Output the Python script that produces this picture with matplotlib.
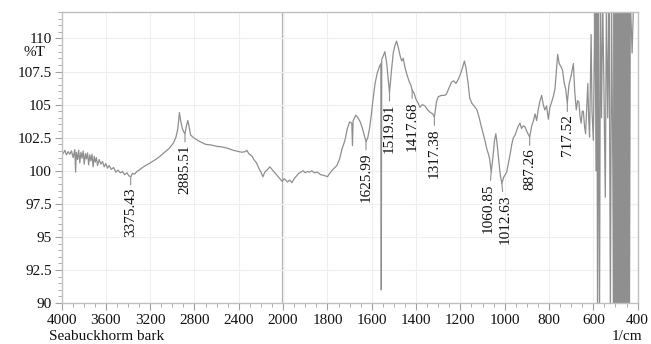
import numpy as np
import matplotlib
matplotlib.use("Agg")
import matplotlib.pyplot as plt
from matplotlib.ticker import FixedLocator, FixedFormatter

# ---------------- data ----------------
wavenumber = [
    4000, 3985, 3970, 3955, 3940, 3925, 3910, 3895, 3880, 3873, 3866, 3855, 3845, 3835,
    3825, 3815, 3805, 3795, 3785, 3775, 3765, 3755, 3745, 3735, 3725, 3715, 3705, 3695,
    3685, 3675, 3660, 3645, 3630, 3615, 3600, 3585, 3570, 3550, 3530, 3510, 3490, 3470,
    3450, 3430, 3410, 3390, 3375.43, 3360, 3340, 3320, 3300, 3260, 3209, 3160, 3118, 3070,
    3027, 2990, 2967, 2950, 2936, 2925, 2910, 2895, 2885.51, 2875, 2860, 2850, 2835, 2800,
    2750, 2700, 2650, 2600, 2550, 2500, 2450, 2400, 2370, 2340, 2327, 2310, 2280, 2260,
    2240, 2220, 2200, 2182, 2165, 2140, 2120, 2100, 2080, 2060, 2040, 2020, 2009, 1995,
    1980, 1970, 1960, 1950, 1940, 1930, 1920, 1910, 1900, 1890, 1880, 1870, 1860, 1845,
    1830, 1815, 1800, 1790, 1775, 1757, 1745, 1735, 1721, 1710, 1700, 1690, 1687, 1684,
    1672, 1662, 1652, 1642, 1634, 1625.99, 1618, 1610, 1602, 1595, 1585, 1575, 1565, 1559,
    1557, 1555, 1548, 1541, 1533, 1526, 1519.91, 1512, 1503, 1495, 1488, 1480, 1472, 1465,
    1458, 1450, 1440, 1430, 1424, 1417.68, 1410, 1400, 1390, 1383, 1372, 1360, 1348, 1335,
    1325, 1317.38, 1308, 1300, 1285, 1270, 1263, 1250, 1240, 1230, 1220, 1210, 1200, 1190,
    1182, 1175, 1165, 1158, 1148, 1138, 1125, 1115, 1105, 1097, 1088, 1080, 1074, 1068,
    1060.85, 1052, 1046, 1040, 1034, 1027, 1020, 1012.63, 1005, 998, 991, 983, 975, 968,
    961, 953, 945, 938, 931, 924, 916, 908, 898, 887.26, 878, 870, 863, 856,
    849, 842, 833, 826, 819, 811, 803, 796, 788, 781, 773, 767, 761, 754,
    747, 739, 732, 725, 717.52, 710, 700, 690, 684, 677, 671, 665, 660, 655,
    650, 645, 640, 635, 630, 625, 621, 617, 613, 610, 606, 600, 596, 592,
    588, 584, 581, 577, 572, 568, 563, 558, 552, 546, 541, 535, 529, 523,
    518, 512, 509, 506, 503, 500, 497, 494, 491, 488, 485, 482, 479, 476,
    473, 470, 467, 464, 461, 458, 455, 452, 449, 446, 443, 440, 437, 433,
    425, 418, 410, 400,
]
transmittance = [
    101.5, 101.3, 101.55, 101.2, 101.45, 101.25, 101.5, 101.0, 101.6, 99.9, 101.4, 100.85, 101.55, 100.6,
    101.4, 100.95, 101.5, 100.5, 101.3, 100.9, 101.35, 100.45, 101.2, 100.75, 101.25, 100.3, 101.1, 100.65,
    101.0, 100.4, 100.85, 100.5, 100.7, 100.3, 100.55, 100.2, 100.4, 100.1, 100.25, 99.9, 100.05, 99.85,
    99.95, 99.7, 99.85, 99.6, 99.55, 99.8, 99.75, 99.95, 100.05, 100.3, 100.55, 100.8, 101.05, 101.4,
    101.7, 102.1, 102.55, 103.2, 104.4, 103.8, 103.2, 102.9, 102.8, 103.3, 103.8, 103.4, 102.7, 102.45,
    102.2, 102.0, 101.95, 101.85, 101.8, 101.7, 101.55, 101.45, 101.4, 101.45, 101.55, 101.3, 101.1, 100.8,
    100.6, 100.2, 99.9, 99.55, 99.9, 100.1, 100.3, 100.1, 99.9, 99.7, 99.5, 99.3, 99.2, 99.4,
    99.15, 99.3, 99.1, 99.4, 99.6, 99.8, 99.9, 100.0, 99.85, 99.95, 99.9, 100.0, 99.85, 99.9,
    99.7, 99.65, 99.55, 99.8, 100.1, 100.4, 100.9, 101.6, 102.3, 103.2, 103.7, 103.6, 101.9, 103.8,
    104.2, 104.0, 103.7, 103.2, 102.7, 102.2, 102.5, 103.2, 104.2, 105.3, 106.6, 107.4, 107.9, 108.1,
    91.0, 108.4, 108.7, 109.0, 108.2, 107.0, 105.9, 107.4, 108.9, 109.5, 109.8, 109.3, 108.7, 108.3,
    108.5, 107.8, 107.2, 106.7, 106.5, 106.1, 105.9, 105.4, 105.1, 104.8, 105.0, 104.9, 104.6, 104.4,
    104.3, 104.05, 105.2, 105.6, 105.7, 105.7, 105.8, 106.3, 106.7, 106.8, 106.6, 106.9, 107.3, 107.8,
    108.3, 107.8, 106.6, 105.5, 105.1, 104.9, 104.6, 104.0, 103.3, 102.8, 102.2, 101.6, 101.3, 100.9,
    99.9, 101.2, 102.3, 102.8, 102.0, 100.8, 99.7, 99.05, 99.5, 99.7, 99.9, 100.6, 101.3, 102.0,
    102.5, 102.7, 103.1, 103.4, 103.6, 103.2, 103.4, 103.3, 102.9, 102.55, 103.4, 103.8, 104.3, 103.8,
    104.6, 105.2, 105.7, 105.0, 104.6, 104.9, 103.9, 104.8, 105.2, 105.6, 106.2, 107.5, 108.8, 108.1,
    107.9, 107.6, 106.7, 106.2, 105.1, 106.5, 107.2, 108.1, 106.0, 104.6, 105.3, 105.2, 104.1, 103.6,
    104.5, 104.5, 103.4, 102.8, 104.8, 106.6, 104.0, 102.55, 107.0, 110.3, 104.5, 102.3, 108.0, 112.5,
    100.0, 113.0, 89.0, 113.0, 89.0, 113.0, 104.0, 113.0, 106.0, 98.0, 113.0, 104.0, 113.0, 89.0,
    113.0, 100.0, 89.0, 113.0, 89.0, 113.0, 89.0, 113.0, 89.0, 113.0, 89.0, 113.0, 89.0, 113.0,
    89.0, 113.0, 89.0, 113.0, 89.0, 113.0, 89.0, 113.0, 89.0, 113.0, 89.0, 113.0, 89.0, 113.0,
    108.9, 113.0, 113.0, 113.0,
]
peak_wavenumbers = [3375.43, 2885.51, 1625.99, 1519.91, 1417.68, 1317.38,
                    1060.85, 1012.63, 887.26, 717.52]
peak_labels = ["3375.43", "2885.51", "1625.99", "1519.91", "1417.68", "1317.38",
               "1060.85", "1012.63", "887.26", "717.52"]
x_major_ticks = [4000, 3600, 3200, 2800, 2400, 2000, 1800, 1600, 1400, 1200, 1000, 800, 600, 400]
x_tick_labels = ["4000", "3600", "3200", "2800", "2400", "2000", "1800", "1600",
                 "1400", "1200", "1000", "800", "600", "400"]
y_major_ticks = [90, 92.5, 95, 97.5, 100, 102.5, 105, 107.5, 110]
y_tick_labels = ["90", "92.5", "95", "97.5", "100", "102.5", "105", "107.5", "110"]
sample_name = "Seabuckhorm bark"
y_unit = "%T"
x_unit = "1/cm"

# layout only: horizontal nudges (pixels) of crowded peak labels
label_dx = {"1060.85": -3, "1012.63": 3}

# ---------------- figure ----------------
plt.rcParams['font.family'] = ['Liberation Serif', 'DejaVu Serif']
fig = plt.figure(figsize=(6.51, 3.44), dpi=100)
ax = fig.add_axes([0.0945, 0.119, 0.885, 0.846])

def fwd(x):
    x = np.asarray(x, dtype=float)
    return np.where(x > 2000, 2000 + (x - 2000) / 2.0, x)

def inv(y):
    y = np.asarray(y, dtype=float)
    return np.where(y > 2000, 2000 + (y - 2000) * 2.0, y)

ax.set_xscale('function', functions=(fwd, inv))
ax.set_xlim(4000, 400)
ax.set_ylim(90, 112)

minor_x = list(range(4000, 2000, -100)) + list(range(2000, 399, -50))
ax.xaxis.set_major_locator(FixedLocator(x_major_ticks))
ax.xaxis.set_major_formatter(FixedFormatter(x_tick_labels))
ax.xaxis.set_minor_locator(FixedLocator(minor_x))
ax.yaxis.set_major_locator(FixedLocator(y_major_ticks))
ax.yaxis.set_major_formatter(FixedFormatter(y_tick_labels))
ax.yaxis.set_minor_locator(FixedLocator(list(np.arange(90, 112.01, 0.5))))

ax.grid(True, which='major', color='#efefef', lw=0.8, zorder=0)
ax.axvline(2000, color='#b0b0b0', lw=1.6, zorder=1)

ax.plot(wavenumber, transmittance, color='#8f8f8f', lw=0.9, zorder=2)

# peak labels
wn_sorted = np.array(wavenumber[::-1], dtype=float)
t_sorted = np.array(transmittance[::-1], dtype=float)
for wn, lab in zip(peak_wavenumbers, peak_labels):
    yv = np.interp(wn, wn_sorted, t_sorted)
    dx = label_dx.get(lab, 0)
    ax.annotate(lab, xy=(wn, yv), xytext=(dx, -11), textcoords='offset pixels',
                rotation=90, ha='center', va='top', fontsize=11, color='#111111',
                arrowprops=dict(arrowstyle='-', color='#8f8f8f', lw=0.8,
                                shrinkA=0, shrinkB=0), zorder=3)

for s in ax.spines.values():
    s.set_color('#c0c0c0')
    s.set_linewidth(1.0)
ax.tick_params(which='major', direction='out', length=5, color='#a0a0a0',
               labelsize=11, labelcolor='#111111')
ax.tick_params(which='minor', direction='out', length=3, color='#a0a0a0')
ax.tick_params(axis='x', which='major', pad=3)
ax.tick_params(axis='y', which='major', pad=2)

fig.text(45 / 651, 1 - 52 / 344, y_unit, ha='right', va='center', fontsize=11, color='#111111')
fig.text(49 / 651, 1 - 337 / 344, sample_name, ha='left', va='center', fontsize=11, color='#111111')
fig.text(642 / 651, 1 - 337 / 344, x_unit, ha='right', va='center', fontsize=11, color='#111111')

fig.savefig("out.png", dpi=100)
